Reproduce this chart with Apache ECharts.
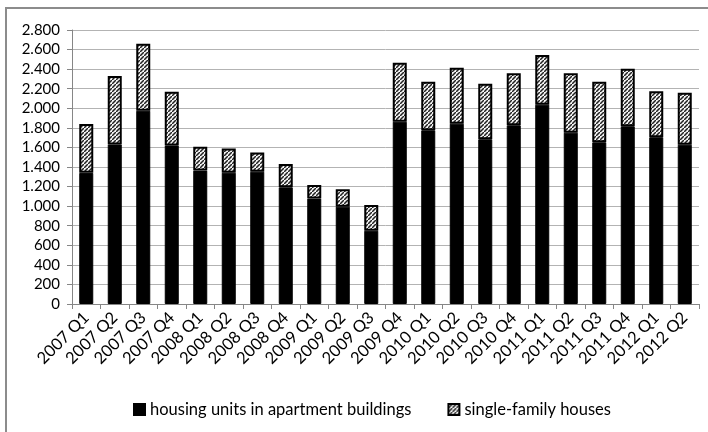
<!DOCTYPE html>
<html><head><meta charset="utf-8">
<script src="https://cdn.jsdelivr.net/npm/echarts@6/dist/echarts.min.js"></script>
<style>html,body{margin:0;padding:0;background:#fff}#c{width:708px;height:432px}</style>
</head><body><div id="c"></div>
<script>
var categories = ['2007 Q1','2007 Q2','2007 Q3','2007 Q4','2008 Q1','2008 Q2','2008 Q3','2008 Q4','2009 Q1','2009 Q2','2009 Q3','2009 Q4','2010 Q1','2010 Q2','2010 Q3','2010 Q4','2011 Q1','2011 Q2','2011 Q3','2011 Q4','2012 Q1','2012 Q2'];
var apartments = [1340,1630,1975,1620,1363,1342,1352,1192,1077,995,749,1863,1775,1843,1683,1826,2037,1751,1652,1816,1704,1628];
var totals = [1840,2330,2660,2170,1608,1588,1547,1431,1216,1172,1012,2466,2272,2415,2252,2357,2545,2357,2272,2405,2174,2160];
var houses = totals.map(function(t,i){return t - apartments[i];});
var yTicks = ['0','200','400','600','800','1.000','1.200','1.400','1.600','1.800','2.000','2.200','2.400','2.600','2.800'];

function hatch(){
  var s = 4;
  var c = document.createElement('canvas'); c.width = s; c.height = s;
  var g = c.getContext('2d');
  g.fillStyle = '#f2f2f2'; g.fillRect(0,0,s,s);
  g.strokeStyle = '#222'; g.lineWidth = 1.5;
  g.beginPath();
  g.moveTo(-1,s+1); g.lineTo(s+1,-1);
  g.moveTo(-1-s,1); g.lineTo(1,-1-s);
  g.moveTo(s-1,2*s+1); g.lineTo(2*s+1,s-1);
  g.stroke();
  return c;
}
var font = 'Lato, "Open Sans", sans-serif';
var chart = echarts.init(document.getElementById('c'), null, {renderer:'canvas'});
chart.setOption({
  animation:false,
  textStyle:{fontFamily:font},
  graphic:[{type:'rect', shape:{x:6,y:8,width:720,height:440}, style:{fill:'none', stroke:'#8c8c8c', lineWidth:2}, z:-1}],
  grid:{left:72, right:9, top:30, bottom:128, containLabel:false},
  legend:{
    bottom:9, left:128, itemWidth:11, itemHeight:11, itemGap:36,
    textStyle:{fontFamily:font, fontSize:16.5, color:'#000'},
    data:[{name:'housing units in apartment buildings', icon:'rect'},{name:'single-family houses', icon:'rect'}]
  },
  xAxis:{
    type:'category', data:categories, boundaryGap:true,
    axisLine:{lineStyle:{color:'#868686', width:1}},
    axisTick:{show:true, length:5, lineStyle:{color:'#868686'}},
    axisLabel:{interval:0, rotate:45, fontSize:16.5, color:'#000', fontFamily:font, margin:11}
  },
  yAxis:{
    type:'value', min:0, max:2800, interval:200,
    axisLine:{show:true, lineStyle:{color:'#868686'}},
    axisTick:{show:true, inside:false, length:5, lineStyle:{color:'#868686'}},
    splitLine:{lineStyle:{color:'#b3b3b3', width:1}},
    axisLabel:{fontSize:15, color:'#000', fontFamily:font, margin:12,
      formatter:function(v){return yTicks[Math.round(v/200)];}}
  },
  series:[
    {name:'housing units in apartment buildings', type:'bar', stack:'a', data:apartments, barWidth:14,
      itemStyle:{color:'#000', borderColor:'#000', borderWidth:1}},
    {name:'single-family houses', type:'bar', stack:'a', data:houses, barWidth:14,
      itemStyle:{color:{image:hatch(), repeat:'repeat'}, borderColor:'#000', borderWidth:2}}
  ]
});
</script></body></html>
